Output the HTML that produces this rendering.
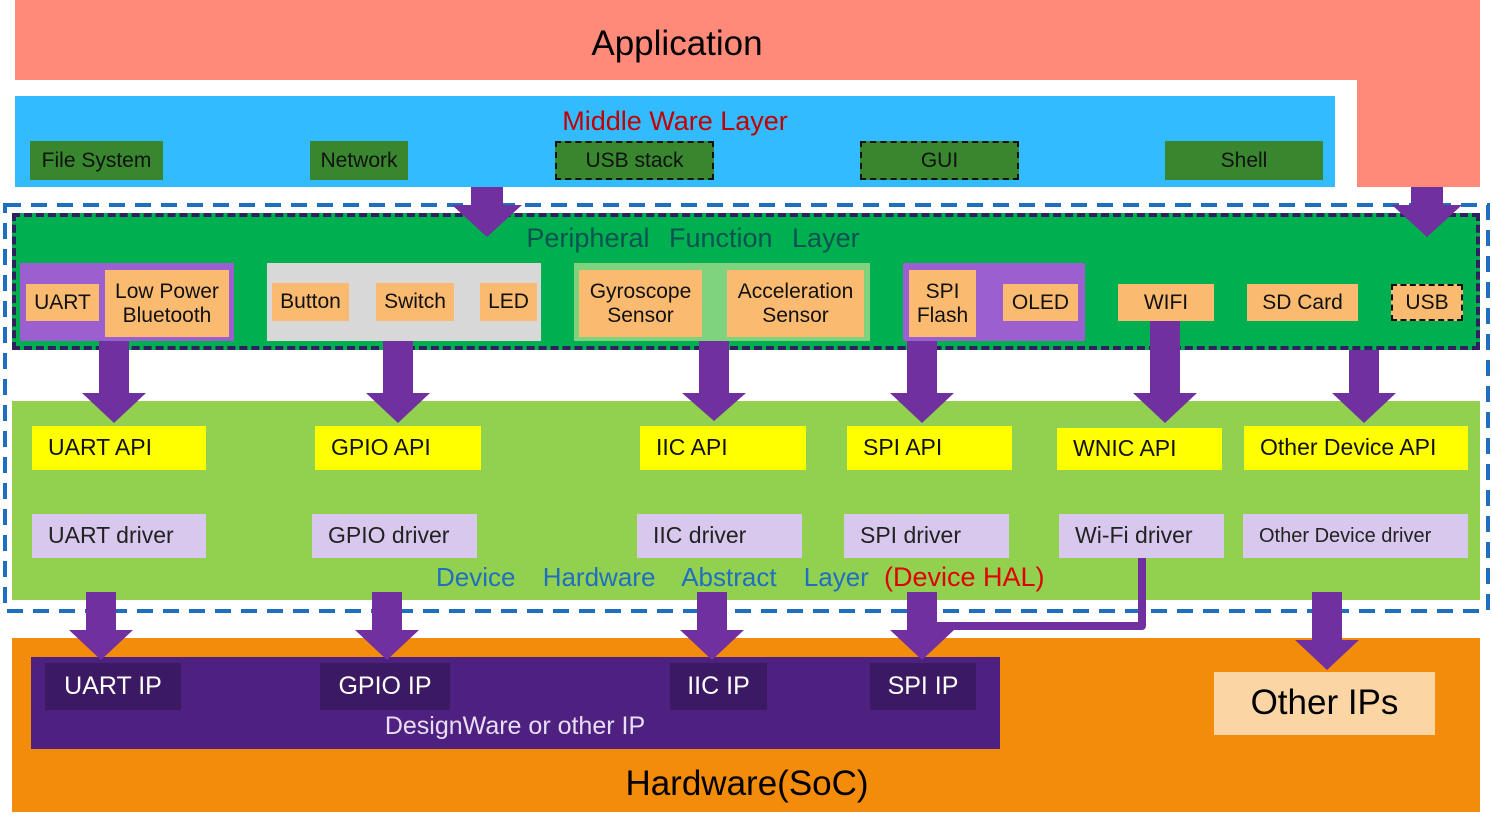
<!DOCTYPE html>
<html><head><meta charset="utf-8"><style>
body{margin:0;width:1492px;height:829px;background:#fff;position:relative;overflow:hidden;font-family:"Liberation Sans",sans-serif}
.a{position:absolute;box-sizing:border-box}
.t{display:flex;align-items:center;justify-content:center;text-align:center;line-height:1.1}
.mw{background:#38862e;color:#111;font-size:21px}
.or{background:#FABA70;color:#111;font-size:21px}
.api{background:#FFFF00;color:#111;font-size:23px;justify-content:flex-start;padding-left:16px}
.drv{background:#D9C8EE;color:#222;font-size:23px;justify-content:flex-start;padding-left:16px}
.ip{background:#3C1A63;color:#fff;font-size:25px}
</style></head><body>
<div class="a" style="left:15px;top:0;width:1465px;height:80px;background:#FF8A7A"></div>
<div class="a" style="left:1357px;top:80px;width:123px;height:107px;background:#FF8A7A"></div>
<div class="a t" style="left:477px;top:22px;width:400px;height:44px;font-size:35px">Application</div>

<div class="a" style="left:15px;top:96px;width:1320px;height:91px;background:#33BBFF"></div>
<div class="a t" style="left:475px;top:106px;width:400px;height:32px;font-size:27px;color:#C00000">Middle Ware Layer</div>
<div class="a t mw" style="left:30px;top:141px;width:133px;height:39px">File System</div>
<div class="a t mw" style="left:310px;top:141px;width:98px;height:39px">Network</div>
<div class="a t mw" style="left:555px;top:141px;width:159px;height:39px;border:2px dashed #111">USB stack</div>
<div class="a t mw" style="left:860px;top:141px;width:159px;height:39px;border:2px dashed #111">GUI</div>
<div class="a t mw" style="left:1165px;top:141px;width:158px;height:39px">Shell</div>

<div class="a" style="left:12px;top:213px;width:1468px;height:137px;background:#00B050;border:4px dashed #2F2060"></div>
<div class="a t" style="left:443px;top:223px;width:500px;height:32px;font-size:27px;color:#0B5350;word-spacing:12px">Peripheral Function Layer</div>
<div class="a" style="left:20px;top:263px;width:214px;height:78px;background:#9B5FD0"></div>
<div class="a t or" style="left:26px;top:284px;width:73px;height:37px">UART</div>
<div class="a t or" style="left:105px;top:270px;width:124px;height:67px">Low Power<br>Bluetooth</div>
<div class="a" style="left:267px;top:263px;width:274px;height:78px;background:#D8D8D8"></div>
<div class="a t or" style="left:272px;top:283px;width:77px;height:38px">Button</div>
<div class="a t or" style="left:376px;top:283px;width:78px;height:38px">Switch</div>
<div class="a t or" style="left:480px;top:283px;width:57px;height:38px">LED</div>
<div class="a" style="left:574px;top:263px;width:296px;height:78px;background:#7FD37F"></div>
<div class="a t or" style="left:579px;top:270px;width:123px;height:67px">Gyroscope<br>Sensor</div>
<div class="a t or" style="left:727px;top:270px;width:137px;height:67px">Acceleration<br>Sensor</div>
<div class="a" style="left:903px;top:263px;width:182px;height:78px;background:#9B5FD0"></div>
<div class="a t or" style="left:909px;top:270px;width:67px;height:67px">SPI<br>Flash</div>
<div class="a t or" style="left:1003px;top:284px;width:75px;height:37px">OLED</div>
<div class="a t or" style="left:1118px;top:284px;width:96px;height:37px">WIFI</div>
<div class="a t or" style="left:1247px;top:284px;width:111px;height:37px">SD Card</div>
<div class="a t or" style="left:1391px;top:284px;width:72px;height:37px;border:2px dashed #111">USB</div>

<div class="a" style="left:12px;top:401px;width:1468px;height:199px;background:#92D050"></div>
<div class="a t api" style="left:32px;top:426px;width:174px;height:44px">UART API</div>
<div class="a t api" style="left:315px;top:426px;width:166px;height:44px">GPIO API</div>
<div class="a t api" style="left:640px;top:426px;width:166px;height:44px">IIC API</div>
<div class="a t api" style="left:847px;top:426px;width:165px;height:44px">SPI API</div>
<div class="a t api" style="left:1057px;top:428px;width:165px;height:42px">WNIC API</div>
<div class="a t api" style="left:1244px;top:426px;width:224px;height:44px">Other Device API</div>
<div class="a t drv" style="left:32px;top:514px;width:174px;height:44px">UART driver</div>
<div class="a t drv" style="left:312px;top:514px;width:165px;height:44px">GPIO driver</div>
<div class="a t drv" style="left:637px;top:514px;width:165px;height:44px">IIC driver</div>
<div class="a t drv" style="left:844px;top:514px;width:165px;height:44px">SPI driver</div>
<div class="a t drv" style="left:1059px;top:514px;width:165px;height:44px">Wi-Fi driver</div>
<div class="a t drv" style="left:1243px;top:514px;width:225px;height:44px;font-size:20px">Other Device driver</div>
<div class="a" style="left:436px;top:561px;height:32px;line-height:32px;font-size:26px;color:#1F6FC0;word-spacing:20px;white-space:nowrap">Device Hardware Abstract Layer</div>
<div class="a" style="left:884px;top:561px;height:32px;line-height:32px;font-size:27px;color:#E00000;white-space:nowrap">(Device HAL)</div>

<div class="a" style="left:12px;top:638px;width:1468px;height:174px;background:#F38C0B"></div>
<div class="a" style="left:31px;top:657px;width:969px;height:92px;background:#4E2180"></div>
<div class="a t ip" style="left:45px;top:663px;width:136px;height:47px">UART IP</div>
<div class="a t ip" style="left:320px;top:663px;width:130px;height:47px">GPIO IP</div>
<div class="a t ip" style="left:670px;top:663px;width:97px;height:47px">IIC IP</div>
<div class="a t ip" style="left:870px;top:663px;width:106px;height:47px">SPI IP</div>
<div class="a t" style="left:315px;top:712px;width:400px;height:30px;font-size:25px;color:#E8DDF5">DesignWare or other IP</div>
<div class="a t" style="left:1214px;top:672px;width:221px;height:63px;background:#FCD5A5;font-size:35px">Other IPs</div>
<div class="a t" style="left:547px;top:762px;width:400px;height:44px;font-size:35px">Hardware(SoC)</div>

<svg class="a" style="left:0;top:0" width="1492" height="829">
<rect x="5" y="205" width="1483" height="406" fill="none" stroke="#1F6FC0" stroke-width="4" stroke-dasharray="16,10"/>
<path d="M1142 558 V626 H925" fill="none" stroke="#7030A0" stroke-width="8" stroke-linejoin="round"/>
<g fill="#7030A0">
<polygon points="471,187 503,187 503,205 522,205 487,237 452,205 471,205"/>
<polygon points="1411,187 1443,187 1443,205 1462,205 1427,237 1392,205 1411,205"/>
<polygon points="99,341 129,341 129,393 146,393 114,423 82,393 99,393"/>
<polygon points="383,341 413,341 413,393 430,393 398,423 366,393 383,393"/>
<polygon points="699,341 729,341 729,393 746,393 714,421 682,393 699,393"/>
<polygon points="907,341 937,341 937,393 954,393 922,423 890,393 907,393"/>
<polygon points="1150,321 1180,321 1180,393 1197,393 1165,423 1133,393 1150,393"/>
<polygon points="1349,350 1379,350 1379,393 1396,393 1364,423 1332,393 1349,393"/>
<polygon points="86,592 116,592 116,630 133,630 101,660 69,630 86,630"/>
<polygon points="372,592 402,592 402,630 419,630 387,660 355,630 372,630"/>
<polygon points="697,592 727,592 727,630 744,630 712,660 680,630 697,630"/>
<polygon points="907,592 937,592 937,630 954,630 922,660 890,630 907,630"/>
<polygon points="1312,592 1342,592 1342,640 1359,640 1327,670 1295,640 1312,640"/>
</g>
</svg>
</body></html>
